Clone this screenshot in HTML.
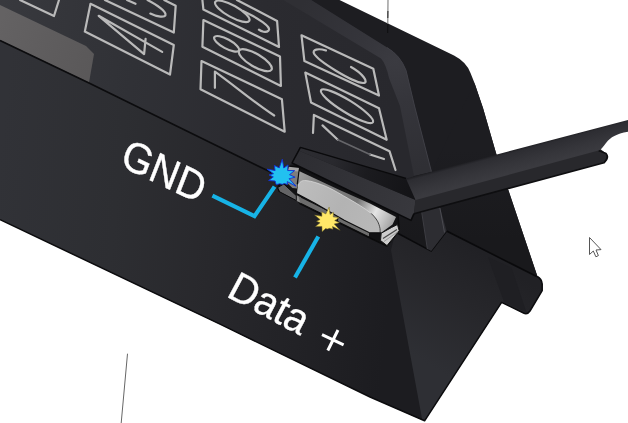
<!DOCTYPE html>
<html>
<head>
<meta charset="utf-8">
<title>Keypad battery contacts</title>
<style>
html,body{margin:0;padding:0;background:#fff;}
body{width:628px;height:423px;overflow:hidden;font-family:"Liberation Sans",sans-serif;}
svg{display:block;position:absolute;left:0;top:0;}
</style>
</head>
<body>
<svg width="628" height="423" viewBox="0 0 628 423">
<defs>
  <linearGradient id="gFront" gradientUnits="userSpaceOnUse" x1="0" y1="150" x2="400" y2="190">
    <stop offset="0" stop-color="#313237"/>
    <stop offset="0.3" stop-color="#2d2e32"/>
    <stop offset="0.55" stop-color="#28282c"/>
    <stop offset="0.78" stop-color="#222226"/>
    <stop offset="1" stop-color="#1c1c20"/>
  </linearGradient>
  <linearGradient id="gTop" gradientUnits="userSpaceOnUse" x1="0" y1="0" x2="400" y2="60">
    <stop offset="0" stop-color="#38393e"/>
    <stop offset="0.35" stop-color="#303136"/>
    <stop offset="0.65" stop-color="#2b2b30"/>
    <stop offset="1" stop-color="#28282d"/>
  </linearGradient>
  <linearGradient id="gStrip" gradientUnits="userSpaceOnUse" x1="0" y1="20" x2="92" y2="66">
    <stop offset="0" stop-color="#646263"/>
    <stop offset="1" stop-color="#5a5859"/>
  </linearGradient>
  <linearGradient id="gEnd" gradientUnits="userSpaceOnUse" x1="470" y1="245" x2="405" y2="350">
    <stop offset="0" stop-color="#212125"/>
    <stop offset="0.45" stop-color="#27272b"/>
    <stop offset="1" stop-color="#2e2f34"/>
  </linearGradient>
  <linearGradient id="gCoin" gradientUnits="userSpaceOnUse" x1="298" y1="185" x2="382" y2="230">
    <stop offset="0" stop-color="#bdbdbd"/>
    <stop offset="0.5" stop-color="#b3b3b3"/>
    <stop offset="1" stop-color="#b9b9b9"/>
  </linearGradient>

  <linearGradient id="gRim" gradientUnits="userSpaceOnUse" x1="300" y1="174" x2="394" y2="222">
    <stop offset="0" stop-color="#9c9c9c"/>
    <stop offset="0.2" stop-color="#808080"/>
    <stop offset="0.6" stop-color="#747474"/>
    <stop offset="0.8" stop-color="#e4e4e4"/>
    <stop offset="0.9" stop-color="#c4c4c4"/>
    <stop offset="1" stop-color="#a0a0a0"/>
  </linearGradient>
  <linearGradient id="gArmSide" gradientUnits="userSpaceOnUse" x1="295" y1="156" x2="413" y2="208">
    <stop offset="0" stop-color="#2d2d32"/>
    <stop offset="1" stop-color="#38383d"/>
  </linearGradient>
  <linearGradient id="gArmTop" gradientUnits="userSpaceOnUse" x1="300" y1="149" x2="410" y2="190">
    <stop offset="0" stop-color="#2d2d32"/>
    <stop offset="0.3" stop-color="#29292e"/>
    <stop offset="0.6" stop-color="#1b1b1f"/>
    <stop offset="1" stop-color="#141417"/>
  </linearGradient>
  <linearGradient id="gHandle" gradientUnits="userSpaceOnUse" x1="500" y1="153.5" x2="505.5" y2="174">
    <stop offset="0" stop-color="#1f1f23"/>
    <stop offset="0.12" stop-color="#2d2d32"/>
    <stop offset="0.6" stop-color="#35353a"/>
    <stop offset="1" stop-color="#3a3a3f"/>
  </linearGradient>
  <radialGradient id="gBevel" gradientUnits="userSpaceOnUse" cx="395" cy="62" r="110">
    <stop offset="0" stop-color="#3b3b41"/>
    <stop offset="0.35" stop-color="#35353b"/>
    <stop offset="1" stop-color="#2f2f34"/>
  </radialGradient>
  <linearGradient id="gSide" gradientUnits="userSpaceOnUse" x1="440" y1="150" x2="440" y2="240">
    <stop offset="0" stop-color="#1d1d21"/>
    <stop offset="1" stop-color="#19191c"/>
  </linearGradient>
  <filter id="soft2" x="-5%" y="-5%" width="110%" height="110%" color-interpolation-filters="sRGB"><feGaussianBlur stdDeviation="0.65"/></filter>
  <filter id="soft" x="-5%" y="-5%" width="110%" height="110%" color-interpolation-filters="sRGB"><feGaussianBlur stdDeviation="0.6"/></filter>
</defs>

<g filter="url(#soft)">
<!-- whole body silhouette -->
<path id="body" d="M0,0 L339.5,0 L454,55.5 Q466.5,62 470.5,73 L474.5,83 L483,108 L496,153 L509,192 L537.2,275.7 Q541.8,279 542.2,284 L542.2,290.6 L530,311 Q527.3,315 523.5,313 L501.6,302.4 L424.6,420.8 L370,397 L220,324.2 L0,219.6 Z" fill="#1d1d21"/>

<!-- top face -->
<path d="M0,0 L311,0 L387,47.6 Q400,55 406,70.3 L414.5,106 L431.5,172 L407,179 L300,147 L283,178 L257,165.5 L0,40 Z" fill="url(#gTop)"/>

<!-- front face -->
<path d="M0,40 L257,165.5 L283,178 L394.5,237 L391,250 L422.3,420 L370,397 L220,324.2 L0,219.6 Z" fill="url(#gFront)"/>

<!-- end face -->
<path d="M391,250 L394.5,237 L398.4,233.4 L431,251.1 L446,232 L537.2,277 Q541.8,279 542.2,284 L542.2,290.6 L530,311 Q527.3,315 523.5,313 L501.6,302.4 L424.6,420.8 L422.3,420 Z" fill="url(#gEnd)"/>
<path d="M488,257 L511.5,267.7 L526.4,312.3 L504,301.7 Z" fill="#1f1f23"/>
<path d="M537.2,276.5 Q541.8,279 542.2,284 L542.2,290.6 L530,311 Q527.3,315 523.5,313 L501.6,302.4 L424.6,420.8 L370,397 L220,324.2 L0,219.6" stroke="#0c0c0e" stroke-width="1.5" fill="none" stroke-linejoin="round"/>

<!-- gray strip -->
<path d="M0,5 L86,46 L94,54 L89,82.5 L0,40 Z" fill="url(#gStrip)"/>

<!-- front edge line -->
<path d="M0,40.6 L89,83 L257,165.5 L283,178" stroke="#0c0c0e" stroke-width="1.7" fill="none"/>

<!-- back/side dark zone above bevel is body colour; bevel band -->
<path d="M311,0 L387,47.6 Q400,55 406,70.3 L414.5,106 L431.5,172 L414,176 L400,106 L389,78 Q386,64 381,58.5 L283.5,0 Z" fill="url(#gBevel)"/>
<path d="M387,47.6 Q400,55 406,70.3 L414.5,106 L431.5,172" stroke="#3f3f46" stroke-width="1" fill="none"/>

<!-- keys -->
<g fill="none" stroke="#bababa" stroke-width="2.2" stroke-linejoin="round" stroke-linecap="round" filter="url(#soft2)">
  <path d="M20,0 L54,16 L59,0"/>
  <path d="M104.9,0 L173.8,32.5 L175.7,5.7 L164.2,0"/>
  <path d="M150.3,13.6 C156,16.5 166.5,18.5 165.5,14 C164.5,10 156,4.5 147.5,0"/>
  <path d="M127,0 L135.5,3.8"/>
  <path d="M90.5,3.8 L173.8,45 L170,74.6 L84.8,31.6 Z"/>
  <path d="M98.7,15.8 L162.2,51.9 M98.7,15.8 L144.1,54.1 L145.6,38.9"/>

  <path d="M202.4,0 L203.4,9.6 L279,46.9 L277.1,21 L236.9,0"/>
  <ellipse cx="232.3" cy="11.3" rx="19.5" ry="5.8" transform="rotate(29 232.3 11.3)"/>
  <path d="M243,11 C258,18 272,27 268.5,30.6 C266,33 261,31.5 258.9,29.7"/>
  <path d="M203.4,20.1 L280,56.5 L280.9,85.9 L202.4,46.7 Z"/>
  <ellipse cx="226.6" cy="43.8" rx="14" ry="4.6" transform="rotate(28.5 226.6 43.8)"/>
  <ellipse cx="255.3" cy="60.2" rx="18.8" ry="6.4" transform="rotate(30.5 255.3 60.2)"/>
  <path d="M201.5,61 L281.9,99.2 L284.7,131.7 L200.5,89.2 Z"/>
  <path d="M214.9,87.8 L214.9,71.6 C235,86 255,103 274.2,115.5"/>

  <path d="M301.5,35.3 L373.3,68.8 L379,95.6 L304.4,61.1 Z"/>
  <path d="M326,50.5 C318,48 312,49.5 314,53.5 C318,61 352,82 363,83 C370,83 362,73 351,67"/>
  <path d="M305.3,72.6 L379,108.2 L386.7,139.8 L311,102.4 Z"/>
  <ellipse cx="347" cy="106.2" rx="30.5" ry="6.2" transform="rotate(31.7 347 106.2)"/>
  <path d="M313,133 L313.9,114.9 L389.5,151.2 L395.5,170"/>
  <path d="M322.5,125.4 L337.8,139.8"/>
  <path d="M370,154.5 L384,159"/>
  <path d="M337.8,139.8 L370,154.5" stroke="#66666a" stroke-width="1.6"/>
</g>
</g>

<g filter="url(#soft)">
<!-- right side surface of body (dark) -->
<path d="M431.5,172 L474.5,83 L483,108 L496,153 L509,192 L537.2,275.7 L536.7,276.5 L446.6,231 L431,251 L396.8,232.8 L380,205 L414,176 Z" fill="url(#gSide)"/>
<path d="M446.6,231 L536.7,276.5" stroke="#0a0a0c" stroke-width="1.6" fill="none"/>
<path d="M396.8,232.8 L427.4,249.1 L431.2,251 L446.6,231" stroke="#0a0a0c" stroke-width="1.6" fill="none"/>
<!-- rib -->
<path d="M421.7,211 L439.9,207 L446.6,231 L431.2,251 L427.4,249.1 Z" fill="#2d2d32"/>
<path d="M439.9,208 L444.5,232.5" stroke="#4b4b51" stroke-width="1" fill="none"/>
<path d="M421.7,212 L427.4,249.1" stroke="#3d3d43" stroke-width="1" fill="none"/>

<!-- battery holder -->
<path d="M289.1,166.5 L299.2,166 L398,214 L399.2,230.3 L386.9,246 L368.9,237.5 L300.3,203.8 L297,199.2 L279,191 L277.9,187.2 Z" fill="#121214" stroke="#0b0b0c" stroke-width="1.4" stroke-linejoin="round"/>
<!-- left frame pieces -->
<path d="M286.3,170 L298.8,171 L297,188.5 L292.5,188 L284.5,180.5 Z" fill="#7d7d7d"/>
<path d="M288.8,166.8 L299.2,168 L298.7,171.6 L287.8,170.8 Z" fill="#a6a6a6"/>
<path d="M277.6,187.6 L283.8,184 L296.3,195.6 L296.4,200.6 L279.6,191.8 Z" fill="#646466" stroke="#0b0b0c" stroke-width="1"/>
<path d="M296.8,195.2 L300.8,197.4 L300.8,203 L296.8,201 Z" fill="#8e8e8e"/>
<path d="M299.6,168 L297.3,184" stroke="#0b0b0c" stroke-width="1.3" fill="none"/>
<!-- bottom rail -->
<path d="M298.5,196.5 L369,231.5 L369,237 L300.3,203.3 Z" fill="#6c6c6c"/>
<path d="M300.3,203.3 L369,237" stroke="#0b0b0c" stroke-width="1.2"/>
<path d="M338,216 L337.2,221.6" stroke="#0b0b0c" stroke-width="1.4"/>
<!-- battery body (rim gradient) -->
<path d="M299.5,171.3 L338.5,189.5 L370,203.5 L396,217 L392.5,224.5 L381.2,232.8 L368.9,232.5 L344.2,220.2 L314.9,203.3 L297,193.7 Z" fill="url(#gRim)"/>
<!-- coin face -->
<path d="M297.2,193.5 L298,186.5 C299,182 302,180 306,180.6 C312,181 320,184 326.2,186.5 C334,190 342,195 348.7,198.8 C357,203.5 365,208.5 371.1,213.4 C375,217 378,221 379,224.7 C380,227.5 380.3,229.5 380.1,232.6 L368.9,232.5 L344.2,220.2 L314.9,203.3 Z" fill="url(#gCoin)"/>
<path d="M298,186.5 C299,182 302,180 306,180.6 C312,181 320,184 326.2,186.5 C334,190 342,195 348.7,198.8 C357,203.5 365,208.5 371.1,213.4 C375,217 378,221 379,224.7 C380,227.5 380.3,229.5 380.1,232.6" stroke="#d9d9d9" stroke-width="0.9" fill="none" opacity="0.85"/>
<path d="M371.1,213.4 C375,217 378,221 379,224.7 C380,227.5 380.3,229.5 380.1,232.6" stroke="#1c1c1c" stroke-width="1" fill="none" opacity="0.8"/>
<path d="M297,193.7 L314.9,203.3 L344.2,220.2 L368.9,232.5 L381.2,232.8" stroke="#0b0b0c" stroke-width="1.2" fill="none"/>
<!-- right clip -->
<path d="M381.2,233.2 L391.5,227.5 L397.5,224.5 L399.2,230.8 L387,245.6 L380.5,240.5 Z" fill="#cdcdcd" stroke="#151515" stroke-width="1" stroke-linejoin="round"/>
<path d="M383,238.5 L397,229.5" stroke="#4a4a4a" stroke-width="1.3"/>
<path d="M384,241.5 L398,231.5" stroke="#9a9a9a" stroke-width="1"/>

<!-- tool: left arm -->
<path d="M298.5,150.5 L415.6,200 L414,213.7 L411,220.4 L292,163 Z" fill="url(#gArmSide)"/>
<path d="M300.4,147.4 L406,178.4 L415.6,200 L298.5,150.5 Z" fill="url(#gArmTop)"/>
<path d="M292,163 L300.4,147.4 L406,178.4" stroke="#0a0a0c" stroke-width="1.5" fill="none" stroke-linejoin="round"/>
<path d="M292,163 L411,220.4 L414,213.7" stroke="#0a0a0c" stroke-width="1.6" fill="none" stroke-linejoin="round"/>
<!-- tool: handle -->
<path d="M415.6,197 L598.5,147.5 L606,153.5 Q609.5,157.5 604,162.8 L414,213.7 Z" fill="#28282c"/>
<path d="M598.5,150.5 L606,153.5 Q609.5,157.5 604,162.8 L414,213.7" stroke="#0e0e10" stroke-width="1.7" fill="none" stroke-linejoin="round"/>
<path d="M406,178.4 L628,120 L628,131.8 C616,134 611,137 606,143 C603,147 601,150 598.5,150.5 L415.6,200 Z" fill="url(#gHandle)"/>
</g>

<g filter="url(#soft)">
<!-- annotation lines -->
<path d="M212.4,195.6 L254.5,216.2 L274.6,186.6" stroke="#17b3e6" stroke-width="4.1" fill="none" stroke-linejoin="miter"/>
<path d="M318.3,236.5 L295,277.5" stroke="#17b3e6" stroke-width="4.1" fill="none"/>
<!-- sparks -->
<polygon points="282.3,159.3 283.8,168.0 288.0,164.9 287.7,170.5 294.6,170.6 289.5,174.7 295.1,177.2 289.1,178.7 296.0,186.2 287.2,181.6 287.5,184.4 284.3,183.5 282.3,184.3 279.7,183.8 276.2,184.6 275.1,181.0 268.6,180.5 273.3,176.9 269.1,174.9 273.5,173.7 267.2,169.2 275.1,170.5 274.3,165.4 279.2,167.9" fill="#22c1f0" stroke="#1330d6" stroke-width="0.9" stroke-linejoin="miter"/>
<polygon points="329.2,207.1 330.0,214.4 333.5,212.3 333.2,216.9 339.2,217.5 334.7,220.6 339.6,222.7 334.2,223.9 340.1,230.3 332.5,226.5 333.0,229.3 329.6,228.3 327.3,229.1 325.6,228.5 322.1,231.7 321.9,226.4 315.5,226.5 320.1,222.8 316.5,221.3 320.1,219.6 314.6,215.1 321.9,216.3 321.7,211.8 325.8,214.0" fill="#ffe868" stroke="#6d6326" stroke-width="0.5" stroke-linejoin="miter"/>
<!-- labels -->
<text transform="matrix(0.9371 0.4510 -0.3996 1.0249 118.8 165.2)" x="0" y="0" font-family="Liberation Sans, sans-serif" font-size="38.5" fill="#ffffff" stroke="#ffffff" stroke-width="0.35">GND</text>
<text transform="matrix(0.8934 0.4711 -0.4929 0.9271 225.2 296.0)" x="0" y="0" font-family="Liberation Sans, sans-serif" font-size="39.8" fill="#ffffff" stroke="#ffffff" stroke-width="0.35">Data</text>
<path d="M322,334.6 L343.6,344.8 M327.8,350.5 L338,330" stroke="#ffffff" stroke-width="3" fill="none"/>
<!-- thin construction lines -->
<path d="M388,0 L387.8,24" stroke="#6e6e6e" stroke-width="1" fill="none"/>
<path d="M387.9,11 L387.8,18" stroke="#3c3c3c" stroke-width="1.2" fill="none"/>
<path d="M387.8,24 L387.7,33" stroke="#0e0e10" stroke-width="1" fill="none"/>
<path d="M127.5,353.7 L121.2,423" stroke="#666" stroke-width="1" fill="none"/>
</g>
<!-- mouse cursor -->
<path d="M589.5,237.5 L589.5,254.5 L593.3,251 L595.9,256.8 L598.4,255.6 L596,250 L601,249.6 Z" fill="#ffffff" stroke="#555" stroke-width="1" stroke-linejoin="round"/>

</svg>
</body>
</html>
